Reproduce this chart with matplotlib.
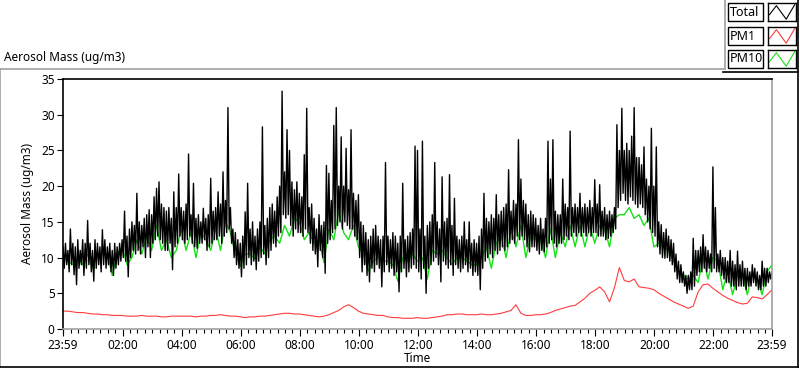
import numpy as np
import matplotlib
matplotlib.use('Agg')
import matplotlib.pyplot as plt
from matplotlib.lines import Line2D
from matplotlib.patches import Rectangle

plt.rcParams['font.family'] = ['Noto Sans', 'DejaVu Sans']

# Total mass: highest and lowest reading in each 5 min slot, 23:59 -> 23:59
total_hi = [
    11.5, 12.0, 11.0, 14.0, 12.0, 11.5, 12.5, 11.0, 12.5, 12.0, 15.2, 12.0,
    11.0, 12.5, 12.0, 11.5, 13.9, 12.5, 11.5, 12.0, 11.0, 12.0, 11.5, 12.0,
    12.5, 16.5, 13.0, 14.0, 15.0, 14.5, 19.0, 15.0, 14.5, 15.5, 16.0, 16.7,
    16.0, 18.5, 19.7, 20.6, 17.5, 17.0, 16.5, 17.0, 15.5, 19.2, 17.0, 21.7,
    17.0, 16.5, 17.5, 24.5, 16.0, 20.4, 15.5, 16.0, 15.0, 16.9, 15.5, 16.0,
    21.1, 16.5, 17.0, 19.2, 17.5, 22.0, 18.0, 31.0, 17.0, 14.0, 13.5, 12.5,
    12.0, 13.0, 16.4, 20.4, 14.0, 15.0, 13.0, 14.0, 15.0, 28.3, 14.5, 15.5,
    17.0, 17.5, 16.5, 18.5, 20.0, 33.3, 22.0, 27.9, 25.0, 20.6, 19.5, 20.6,
    19.0, 18.5, 24.4, 30.9, 17.0, 17.5, 15.5, 14.0, 16.0, 14.5, 15.0, 22.9,
    21.8, 18.0, 28.5, 31.0, 20.0, 26.9, 20.0, 25.3, 19.5, 27.9, 19.0, 18.0,
    18.8, 15.0, 14.5, 13.5, 12.5, 13.0, 14.0, 14.5, 13.0, 12.5, 13.0, 23.3,
    13.0, 12.5, 13.5, 13.0, 12.0, 13.0, 20.4, 12.5, 13.0, 13.5, 14.0, 25.6,
    25.0, 14.0, 26.3, 13.0, 14.5, 15.0, 16.0, 23.3, 15.0, 14.0, 21.3, 15.0,
    15.5, 21.6, 14.5, 18.3, 13.0, 12.5, 13.0, 15.0, 12.5, 15.0, 12.0, 12.5,
    12.0, 13.0, 14.0, 19.0, 15.5, 15.0, 16.0, 15.5, 18.8, 16.0, 16.5, 17.0,
    17.5, 22.3, 16.5, 18.0, 17.5, 26.5, 21.0, 18.0, 17.5, 16.0, 16.5, 16.0,
    15.5, 14.5, 15.5, 14.0, 15.5, 26.3, 21.0, 26.5, 16.5, 16.0, 16.0, 21.0,
    17.5, 17.0, 27.7, 17.0, 17.5, 17.0, 19.0, 17.0, 17.5, 17.0, 18.0, 17.0,
    20.9, 17.5, 20.2, 16.5, 17.0, 16.0, 16.5, 16.0, 17.0, 28.6, 25.0, 30.9,
    25.0, 26.0, 25.0, 27.0, 31.0, 24.0, 24.0, 23.0, 25.5, 21.0, 20.0, 28.1,
    20.0, 25.5, 15.0, 14.6, 13.5, 14.0, 13.0, 12.5, 12.0, 10.5, 9.5, 9.0,
    8.0, 7.5, 7.5, 8.0, 12.7, 11.0, 11.0, 11.5, 13.2, 11.5, 11.0, 10.5,
    22.7, 17.0, 10.5, 11.0, 10.0, 10.0, 9.5, 11.0, 9.5, 9.0, 10.9, 9.0,
    9.5, 8.5, 8.5, 8.0, 9.0, 8.5, 8.0, 7.5, 9.5, 8.5, 8.5, 8.0, 8.0,
]
total_lo = [
    8.5, 9.0, 8.0, 9.0, 7.6, 6.2, 8.5, 9.0, 7.5, 8.5, 9.0, 8.0,
    6.7, 8.5, 9.0, 8.0, 9.0, 8.5, 9.0, 8.0, 7.5, 8.5, 9.0, 9.5,
    10.0, 9.5, 7.3, 10.0, 11.0, 10.5, 11.0, 10.5, 11.5, 10.0, 11.5, 10.0,
    12.0, 12.5, 13.0, 12.5, 12.0, 11.0, 11.0, 12.0, 8.3, 11.5, 12.0, 13.0,
    12.5, 12.0, 12.5, 13.0, 12.0, 11.5, 11.3, 12.0, 12.0, 12.5, 11.0, 11.5,
    12.0, 12.5, 12.5, 13.0, 12.0, 13.0, 13.5, 14.0, 12.0, 10.0, 9.0, 8.5,
    7.3, 8.5, 9.0, 10.0, 9.0, 9.5, 8.3, 9.5, 10.0, 10.5, 9.0, 10.0,
    11.0, 12.0, 11.5, 13.0, 13.5, 16.0, 15.5, 16.0, 14.5, 13.0, 14.0, 13.5,
    13.5, 13.0, 14.0, 13.5, 12.0, 11.0, 10.5, 8.7, 11.0, 10.0, 7.8, 12.0,
    12.5, 13.5, 14.0, 14.5, 15.0, 14.0, 15.0, 14.5, 14.0, 14.0, 13.0, 12.5,
    10.0, 8.0, 9.0, 7.5, 6.6, 8.5, 8.0, 9.0, 8.5, 5.9, 8.0, 9.0,
    8.0, 8.5, 7.5, 8.0, 5.2, 8.0, 8.5, 7.3, 8.0, 8.5, 9.0, 8.5,
    8.0, 7.0, 8.5, 5.0, 8.5, 9.0, 9.5, 10.0, 9.0, 6.6, 9.5, 9.0,
    8.5, 9.0, 7.5, 9.0, 8.5, 8.0, 8.5, 9.0, 8.0, 8.5, 7.5, 8.0,
    7.5, 5.5, 8.5, 9.5, 10.0, 10.5, 10.0, 11.0, 10.5, 11.0, 11.5, 11.0,
    11.5, 12.0, 12.5, 12.0, 13.0, 12.5, 13.0, 12.5, 11.5, 10.8, 11.5, 11.5,
    11.0, 10.5, 11.0, 10.8, 11.5, 12.0, 12.5, 12.0, 11.5, 12.0, 12.0, 12.5,
    13.0, 12.5, 13.0, 13.5, 13.0, 13.5, 13.0, 13.5, 13.0, 13.5, 13.0, 13.5,
    13.5, 13.0, 13.0, 13.0, 12.5, 12.7, 13.0, 13.5, 14.0, 17.0, 18.0, 19.0,
    18.0, 17.5, 18.5, 18.0, 17.5, 17.0, 17.5, 17.0, 16.0, 15.0, 14.0, 13.5,
    13.0, 11.5, 10.5, 10.0, 9.9, 10.0, 9.5, 9.0, 8.0, 7.0, 6.5, 6.5,
    6.0, 5.0, 5.5, 5.5, 6.0, 7.5, 8.0, 8.0, 8.5, 8.0, 8.5, 8.0,
    8.5, 8.0, 8.0, 7.5, 7.0, 6.5, 6.5, 6.0, 6.0, 5.5, 6.0, 6.0,
    6.0, 5.5, 6.0, 6.0, 6.5, 6.0, 5.5, 5.5, 6.0, 6.0, 6.5, 7.0, 7.5,
]

# PM10, one value every 10 min
pm10 = [
    10.0, 9.5, 9.0, 10.0, 9.0, 10.5,
    8.5, 10.5, 10.5, 10.5, 7.5, 10.5,
    11.5, 9.0, 10.0, 12.5, 10.5, 13.0,
    11.0, 14.5, 11.0, 12.5, 10.0, 11.0,
    14.0, 11.0, 13.5, 10.0, 13.5, 12.5,
    11.0, 14.0, 11.0, 15.0, 13.5, 10.5,
    8.8, 10.5, 10.5, 9.8, 11.5, 10.5,
    12.5, 13.0, 12.0, 14.5, 13.0, 15.5,
    15.0, 12.5, 13.5, 12.0, 12.5, 9.3,
    14.0, 12.5, 16.5, 13.5, 12.5, 14.5,
    11.5, 10.5, 8.1, 9.5, 10.0, 9.5,
    9.5, 9.0, 6.7, 10.0, 9.5, 10.5,
    9.5, 10.0, 7.0, 11.0, 10.5, 11.0,
    10.0, 9.0, 10.0, 10.0, 9.5, 9.0,
    9.0, 10.0, 11.5, 8.5, 12.0, 13.0,
    10.0, 14.0, 11.5, 14.5, 10.0, 13.0,
    12.5, 12.5, 10.0, 14.0, 10.0, 13.5,
    11.5, 14.5, 11.5, 14.5, 11.5, 14.5,
    12.0, 14.5, 14.0, 11.5, 15.5, 16.0,
    16.0, 17.0, 15.5, 16.0, 14.5, 15.5,
    11.5, 12.0, 11.4, 11.0, 9.5, 8.0,
    7.5, 7.0, 7.5, 6.5, 10.0, 7.0,
    10.0, 9.5, 5.5, 8.0, 4.8, 7.5,
    7.5, 4.8, 8.0, 7.0, 4.8, 8.0, 9.0,
]

# PM1, one value every 10 min
pm1 = [
    2.5, 2.5, 2.4, 2.3, 2.3, 2.2,
    2.1, 2.1, 2.0, 2.0, 1.9, 1.9,
    1.9, 1.8, 1.8, 1.8, 1.9, 1.8,
    1.8, 1.8, 1.7, 1.7, 1.8, 1.8,
    1.8, 1.8, 1.8, 1.7, 1.8, 1.8,
    1.9, 1.9, 2.0, 1.9, 1.8, 1.8,
    1.7, 1.6, 1.7, 1.7, 1.8, 1.8,
    1.9, 2.0, 2.1, 2.2, 2.2, 2.1,
    2.1, 2.0, 1.9, 1.8, 1.7, 1.8,
    2.0, 2.3, 2.6, 3.1, 3.4, 3.0,
    2.5, 2.2, 2.1, 2.0, 1.9, 1.9,
    1.7, 1.6, 1.6, 1.5, 1.5, 1.5,
    1.6, 1.5, 1.5, 1.6, 1.7, 1.8,
    2.0, 2.0, 2.1, 2.1, 2.0, 2.0,
    2.0, 2.1, 2.0, 2.0, 2.1, 2.2,
    2.4, 2.6, 3.4, 2.2, 1.9, 1.9,
    2.0, 2.0, 2.1, 2.3, 2.6, 2.8,
    3.0, 3.2, 3.3, 3.8, 4.3, 5.0,
    5.4, 5.9, 5.2, 3.8, 5.8, 8.6,
    6.8, 6.6, 7.0, 5.9, 5.8, 5.7,
    5.5, 5.0, 4.6, 4.2, 3.8, 3.5,
    3.2, 2.9, 3.2, 5.2, 6.2, 6.3,
    5.7, 5.2, 4.7, 4.3, 4.0, 3.7,
    3.5, 3.6, 4.5, 4.4, 4.2, 4.8, 5.5,
]

tick_labels = ['23:59', '02:00', '04:00', '06:00', '08:00', '10:00', '12:00',
               '14:00', '16:00', '18:00', '20:00', '22:00', '23:59']

c_total = 'black'
c_pm1 = '#ff3c3c'
c_pm10 = '#18e018'

fig = plt.figure(figsize=(8, 3.69), dpi=100)
ax = fig.add_axes([63/800, 1-329/369, (772-63)/800, (329-79)/369])

# high reading at the start of each slot, low reading half way through it
t_hi = np.linspace(0, 1440, len(total_hi))
t_lo = t_hi + 2.5
t_total = np.column_stack([t_hi, t_lo]).ravel()
v_total = np.column_stack([total_hi, total_lo]).ravel()
t_pm10 = np.linspace(0, 1440, len(pm10))
t_pm1 = np.linspace(0, 1440, len(pm1))

ax.plot(t_pm1, pm1, color=c_pm1, lw=0.8)
ax.plot(t_pm10, pm10, color=c_pm10, lw=1.0)
ax.plot(t_total, v_total, color=c_total, lw=1.0)

ax.set_xlim(0, 1440)
ax.set_ylim(0, 35)
ax.set_yticks(range(0, 36, 5))
major = [0] + list(range(121, 1440, 120)) + [1440]
ax.set_xticks(major)
ax.set_xticklabels(tick_labels)
minor = [m for m in range(1, 1440, 15) if m not in major]
ax.set_xticks(minor, minor=True)
ax.tick_params(axis='both', labelsize=8.5, color='black', pad=2)
ax.tick_params(axis='x', which='major', length=5, width=0.8)
ax.tick_params(axis='x', which='minor', length=3, width=0.8)
ax.tick_params(axis='y', length=4, width=0.8)

ax.spines['top'].set_color('black')
ax.spines['left'].set_color('black')
ax.spines['bottom'].set_color('#a0a0a0')
ax.spines['right'].set_color('#a0a0a0')
for s in ax.spines.values():
    s.set_linewidth(1.2)

ax.set_ylabel('Aerosol Mass (ug/m3)', fontsize=8.5, labelpad=5)
ax.set_xlabel('Time', fontsize=8.5, labelpad=0)


def fx(x):
    return x / 800


def fy(y):
    return 1 - y / 369


# panel frame
frame = [
    ((0, 69), (725, 69), '#a0a0a0'),
    ((725, 0), (725, 69), '#a0a0a0'),
    ((0, 69), (0, 367), '#a0a0a0'),
    ((723, 72), (798, 72), 'black'),
    ((798, 0), (798, 367), 'black'),
    ((0, 367), (798, 367), 'black'),
]
for (x0, y0), (x1, y1), c in frame:
    fig.add_artist(Line2D([fx(x0), fx(x1)], [fy(y0), fy(y1)], color=c,
                          lw=1.2, transform=fig.transFigure))

fig.text(fx(4), fy(58), 'Aerosol Mass (ug/m3)', fontsize=8.5, va='center', ha='left')

# legend
names = ['Total', 'PM1', 'PM10']
colors = [c_total, c_pm1, c_pm10]
tops = [3, 27, 50]
for name, col, top in zip(names, colors, tops):
    h = 18
    fig.add_artist(Rectangle((fx(728), fy(top + h)), fx(35), h / 369,
                             transform=fig.transFigure, fill=False,
                             ec='black', lw=1))
    fig.text(fx(730), fy(top + h / 2), name, fontsize=9, va='center', ha='left')
    sax = fig.add_axes([fx(768), fy(top + h), fx(28), h / 369])
    sax.set_xticks([])
    sax.set_yticks([])
    for s in sax.spines.values():
        s.set_linewidth(1)
    sax.plot([0.05, 0.3, 0.65, 0.95], [0.35, 0.85, 0.1, 0.9], color=col, lw=0.8)
    sax.set_xlim(0, 1)
    sax.set_ylim(0, 1)

fig.savefig('out.png', dpi=100)
